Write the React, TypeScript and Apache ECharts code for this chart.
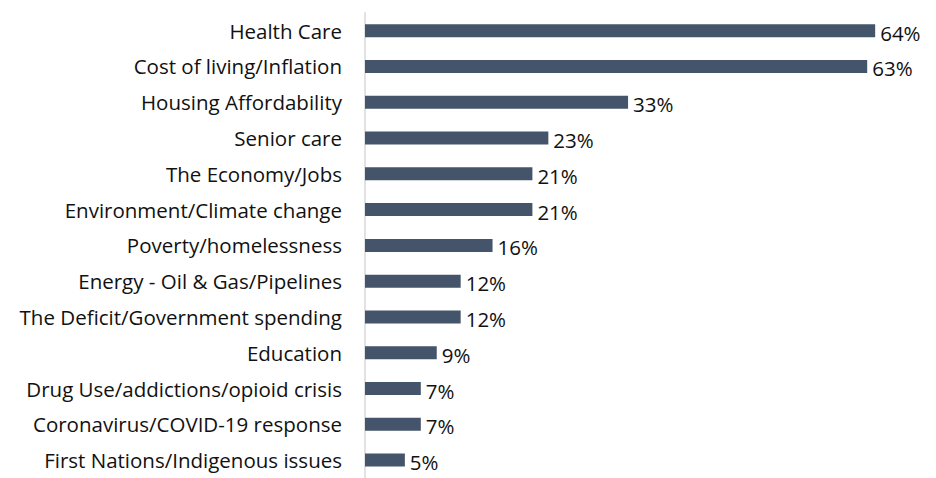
import React, { useEffect, useRef } from "react";
import * as echarts from "echarts";

const categories = [
  "Health Care",
  "Cost of living/Inflation",
  "Housing Affordability",
  "Senior care",
  "The Economy/Jobs",
  "Environment/Climate change",
  "Poverty/homelessness",
  "Energy - Oil & Gas/Pipelines",
  "The Deficit/Government spending",
  "Education",
  "Drug Use/addictions/opioid crisis",
  "Coronavirus/COVID-19 response",
  "First Nations/Indigenous issues",
];
const values = [64, 63, 33, 23, 21, 21, 16, 12, 12, 9, 7, 7, 5];

export default function App() {
  const ref = useRef<HTMLDivElement>(null);
  useEffect(() => {
    document.body.style.margin = "0";
    const chart = echarts.init(ref.current!, null, { renderer: "svg" });
    const font = "'Open Sans', sans-serif";
    chart.setOption({
      animation: false,
      backgroundColor: "#ffffff",
      grid: { left: 365, top: 12.75, width: 558, height: 474.5, containLabel: false },
      xAxis: {
        type: "value",
        min: 0,
        max: 70,
        show: false,
      },
      yAxis: {
        type: "category",
        inverse: true,
        data: categories,
        axisLine: { show: true, lineStyle: { color: "#d9d9d9", width: 1.5 } },
        axisTick: { show: false },
        axisLabel: {
          color: "#111111",
          fontSize: 20.5,
          fontFamily: font,
          margin: 23,
        },
      },
      series: [
        {
          type: "bar",
          data: values,
          barWidth: 13,
          itemStyle: { color: "#44546A" },
          label: {
            show: true,
            position: "right",
            distance: 5,
            formatter: "{c}%",
            color: "#111111",
            fontSize: 20.5,
            fontFamily: font,
            offset: [0, 2],
          },
        },
      ],
    });
    return () => chart.dispose();
  }, []);
  return <div ref={ref} style={{ width: 936, height: 478 }} />;
}
